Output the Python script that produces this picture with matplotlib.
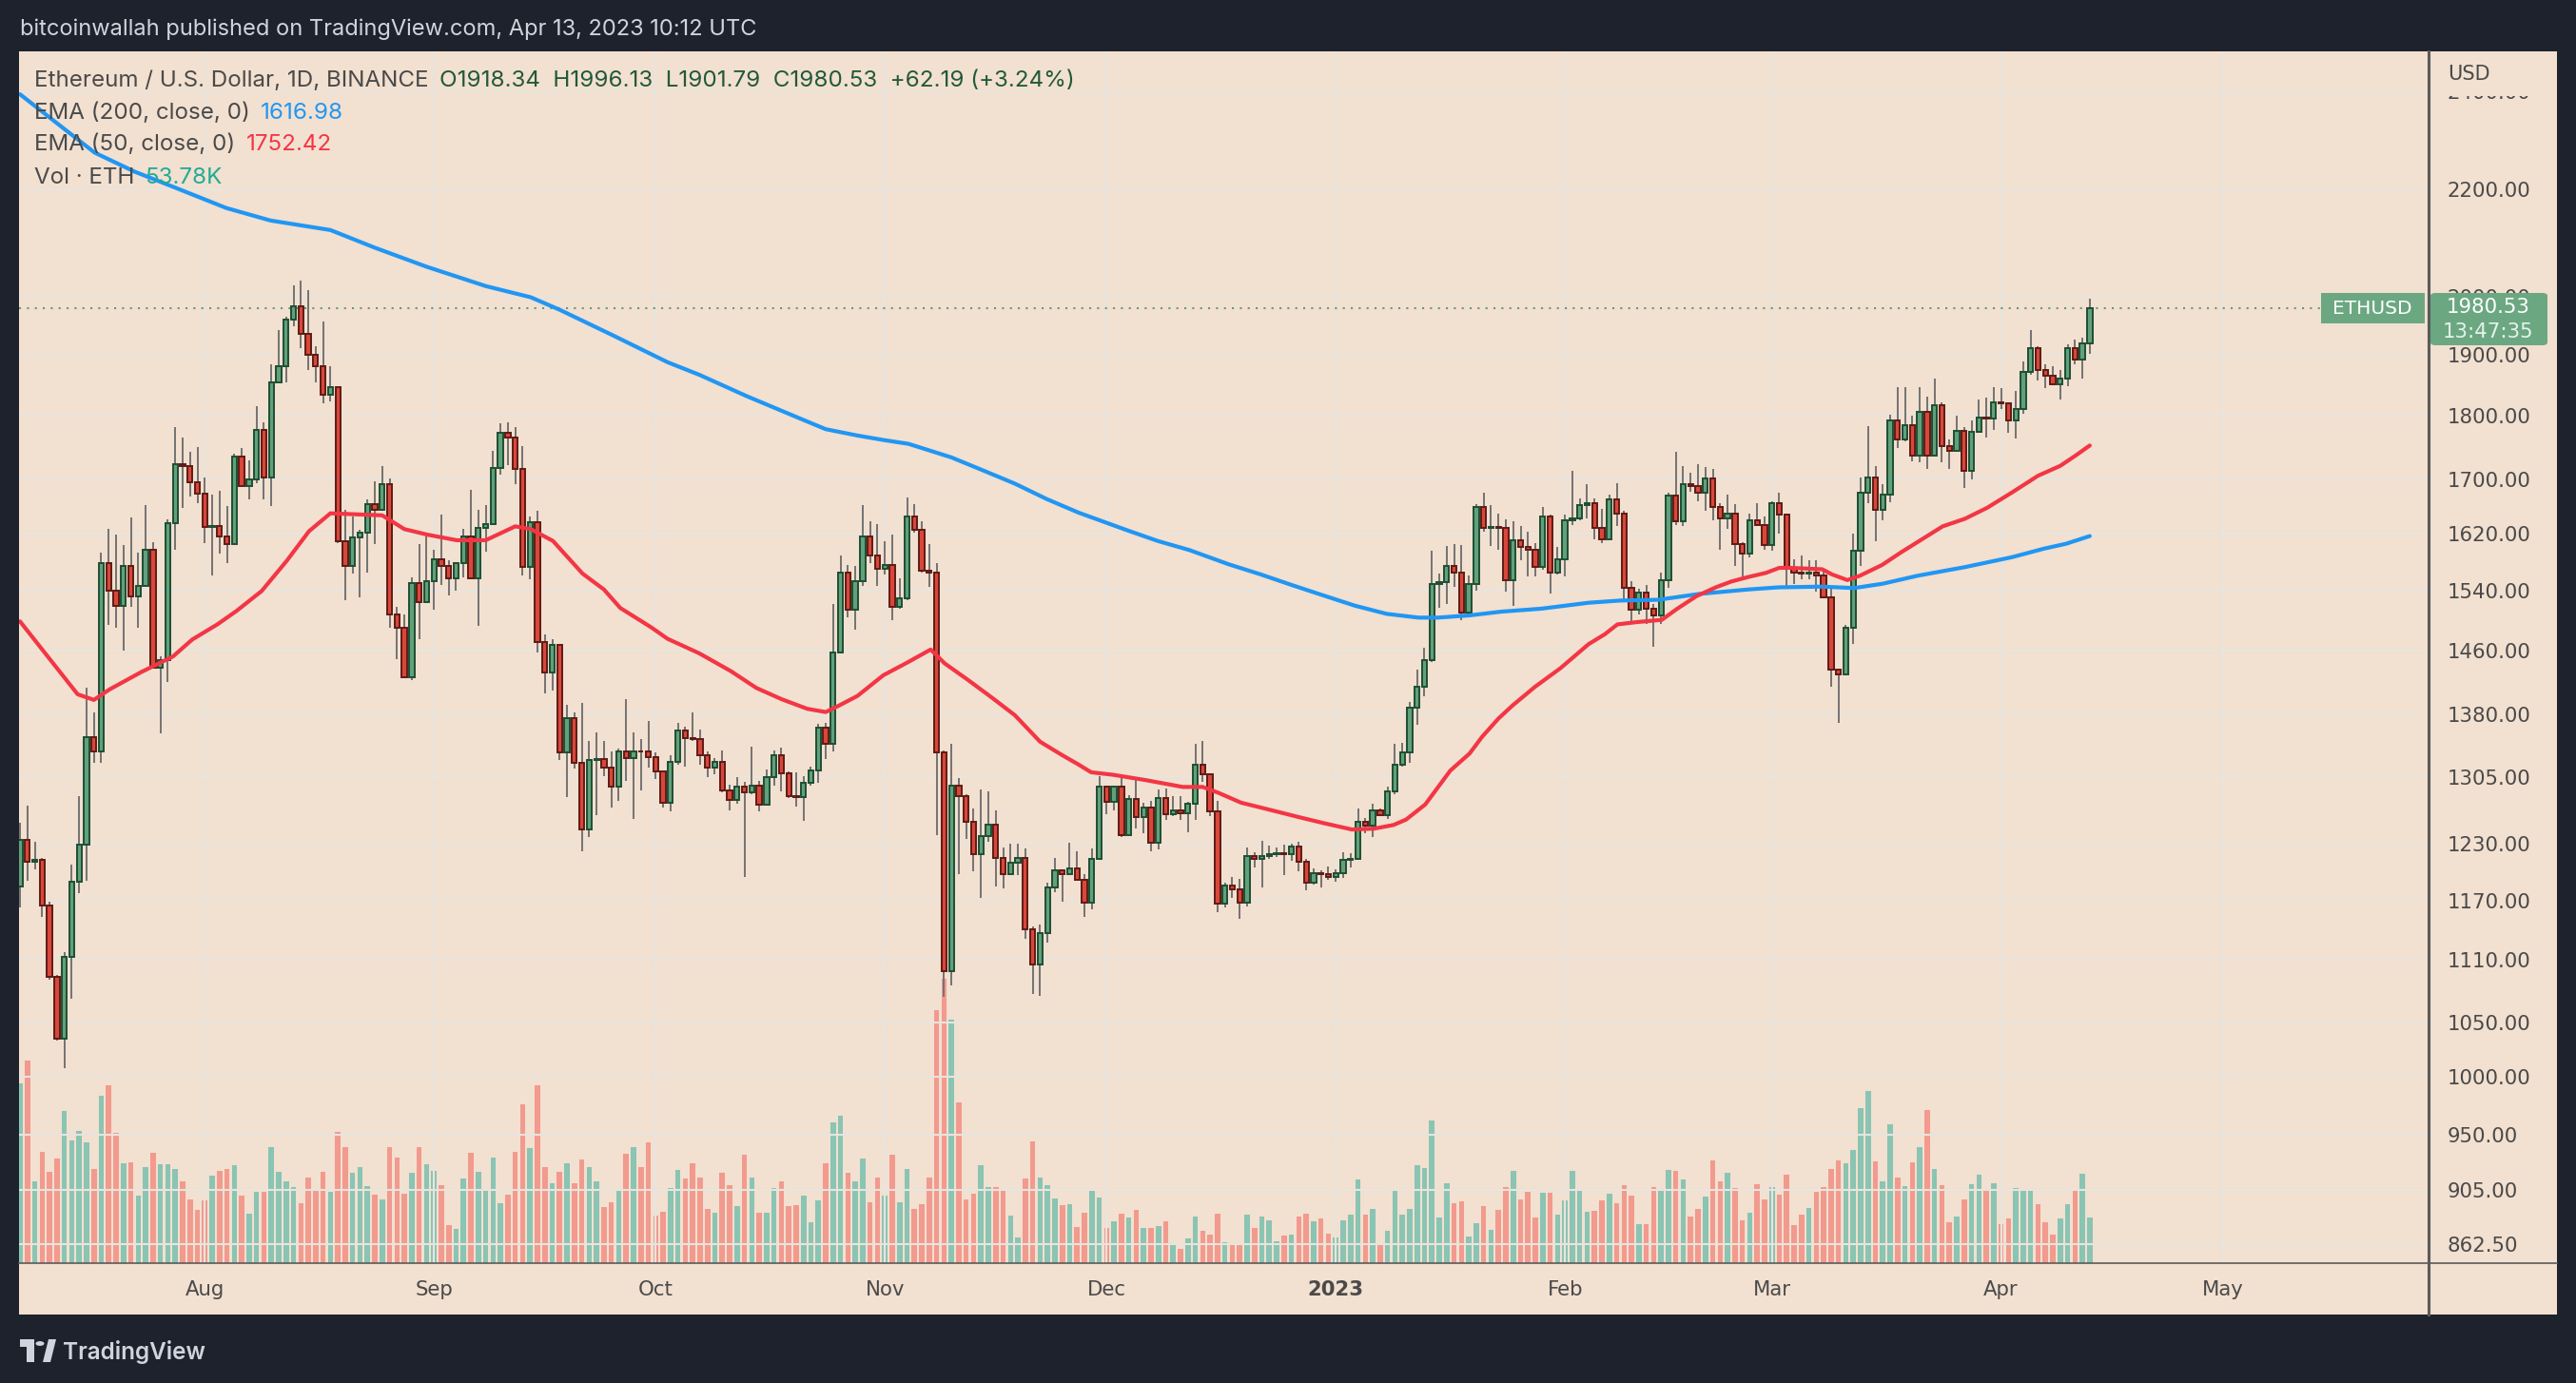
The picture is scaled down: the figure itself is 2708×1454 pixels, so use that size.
import numpy as np
import pandas as pd
import matplotlib
matplotlib.use("Agg")
import matplotlib.pyplot as plt
import matplotlib.dates as mdates
from matplotlib.patches import Rectangle, FancyBboxPatch, Circle, Polygon
from matplotlib.lines import Line2D
from matplotlib.ticker import FixedLocator, FixedFormatter, NullLocator

# ETH/USD daily candles 2022-07-07 .. 2023-04-13
dates = pd.date_range("2022-07-07", "2023-04-13", freq="D")
first_open = 1185

closes = [1235, 1211, 1213, 1165, 1093, 1035, 1113, 1190, 1229, 1353,
          1336, 1579, 1541, 1520, 1574, 1533, 1547, 1597, 1439, 1448,
          1636, 1724, 1721, 1696, 1679, 1630, 1631, 1617, 1606, 1736,
          1690, 1700, 1777, 1703, 1853, 1880, 1959, 1983, 1935, 1900,
          1880, 1833, 1846, 1609, 1575, 1615, 1622, 1663, 1655, 1694,
          1508, 1490, 1426, 1551, 1525, 1554, 1584, 1575, 1557, 1579,
          1616, 1558, 1629, 1634, 1718, 1773, 1765, 1716, 1573, 1637,
          1472, 1433, 1468, 1334, 1375, 1322, 1246, 1325, 1326, 1316,
          1294, 1335, 1328, 1336, 1335, 1329, 1312, 1276, 1323, 1360,
          1351, 1350, 1331, 1316, 1323, 1290, 1279, 1294, 1288, 1296,
          1274, 1305, 1331, 1310, 1284, 1282, 1299, 1313, 1364, 1344,
          1458, 1565, 1514, 1553, 1616, 1589, 1571, 1576, 1518, 1530,
          1645, 1626, 1568, 1566, 1334, 1099, 1295, 1284, 1255, 1219,
          1239, 1251, 1215, 1198, 1210, 1215, 1140, 1105, 1136, 1184,
          1202, 1198, 1204, 1192, 1168, 1214, 1294, 1277, 1294, 1240,
          1280, 1260, 1271, 1231, 1281, 1263, 1267, 1264, 1275, 1320,
          1309, 1266, 1167, 1186, 1182, 1168, 1217, 1214, 1217, 1219,
          1220, 1219, 1227, 1211, 1189, 1199, 1198, 1195, 1199, 1213,
          1214, 1255, 1250, 1267, 1262, 1289, 1320, 1334, 1388, 1415,
          1448, 1550, 1552, 1575, 1565, 1511, 1549, 1660, 1629, 1630,
          1629, 1555, 1611, 1601, 1598, 1573, 1645, 1566, 1584, 1640,
          1643, 1662, 1665, 1629, 1612, 1671, 1650, 1544, 1514, 1538,
          1516, 1507, 1555, 1676, 1638, 1694, 1690, 1680, 1702, 1659,
          1643, 1650, 1606, 1592, 1640, 1633, 1604, 1665, 1648, 1570,
          1565, 1564, 1566, 1561, 1531, 1436, 1430, 1490, 1596, 1680,
          1704, 1655, 1677, 1792, 1762, 1785, 1737, 1806, 1737, 1817,
          1752, 1744, 1775, 1714, 1774, 1796, 1795, 1821, 1820, 1792,
          1810, 1870, 1910, 1874, 1864, 1850, 1859, 1911, 1891, 1918.34,
          1980.53]

highs = [1253, 1273, 1232, 1215, 1169, 1095, 1117, 1208, 1284, 1413,
         1383, 1594, 1628, 1619, 1604, 1644, 1594, 1662, 1608, 1453,
         1641, 1782, 1765, 1743, 1750, 1704, 1678, 1684, 1661, 1739,
         1749, 1730, 1815, 1789, 1884, 1941, 1965, 2020, 2028, 2011,
         1914, 1957, 1880, 1846, 1655, 1645, 1626, 1671, 1698, 1720,
         1702, 1518, 1508, 1559, 1605, 1617, 1598, 1648, 1582, 1580,
         1627, 1685, 1655, 1662, 1744, 1787, 1789, 1781, 1751, 1646,
         1654, 1482, 1476, 1468, 1392, 1382, 1394, 1348, 1358, 1348,
         1336, 1339, 1399, 1358, 1350, 1372, 1334, 1312, 1331, 1370,
         1365, 1382, 1362, 1336, 1328, 1337, 1297, 1305, 1300, 1341,
         1301, 1314, 1337, 1340, 1312, 1311, 1306, 1318, 1369, 1370,
         1522, 1590, 1576, 1574, 1662, 1639, 1634, 1609, 1619, 1557,
         1674, 1664, 1638, 1606, 1578, 1337, 1345, 1304, 1286, 1270,
         1291, 1289, 1267, 1226, 1230, 1230, 1225, 1143, 1145, 1189,
         1215, 1203, 1231, 1222, 1198, 1225, 1307, 1295, 1295, 1304,
         1285, 1304, 1276, 1278, 1291, 1292, 1283, 1283, 1277, 1344,
         1348, 1310, 1278, 1189, 1195, 1193, 1226, 1221, 1234, 1228,
         1226, 1229, 1230, 1233, 1214, 1204, 1202, 1206, 1203, 1221,
         1220, 1270, 1259, 1275, 1270, 1294, 1345, 1346, 1396, 1436,
         1464, 1596, 1564, 1603, 1605, 1604, 1562, 1663, 1680, 1662,
         1649, 1641, 1638, 1631, 1623, 1607, 1659, 1648, 1602, 1648,
         1713, 1672, 1694, 1672, 1656, 1677, 1695, 1654, 1554, 1543,
         1548, 1522, 1566, 1680, 1742, 1721, 1710, 1724, 1719, 1717,
         1665, 1678, 1663, 1608, 1649, 1665, 1645, 1668, 1680, 1649,
         1584, 1589, 1582, 1582, 1571, 1545, 1437, 1494, 1621, 1704,
         1783, 1721, 1694, 1801, 1845, 1845, 1800, 1845, 1830, 1860,
         1821, 1762, 1800, 1781, 1792, 1825, 1829, 1846, 1844, 1813,
         1839, 1889, 1941, 1914, 1883, 1880, 1874, 1917, 1926, 1929,
         1996.13]

lows = [1163, 1191, 1203, 1153, 1090, 1033, 1008, 1072, 1178, 1191,
        1322, 1322, 1494, 1491, 1460, 1519, 1491, 1546, 1438, 1357,
        1421, 1598, 1658, 1675, 1665, 1607, 1561, 1592, 1579, 1605,
        1690, 1670, 1695, 1670, 1661, 1853, 1854, 1949, 1911, 1874,
        1853, 1819, 1822, 1607, 1528, 1564, 1531, 1565, 1605, 1654,
        1490, 1449, 1425, 1423, 1476, 1524, 1515, 1548, 1534, 1541,
        1559, 1558, 1493, 1595, 1633, 1707, 1722, 1693, 1562, 1556,
        1458, 1406, 1410, 1325, 1282, 1315, 1222, 1238, 1262, 1307,
        1271, 1278, 1301, 1258, 1290, 1316, 1303, 1271, 1266, 1320,
        1317, 1348, 1320, 1305, 1309, 1288, 1267, 1275, 1195, 1286,
        1266, 1274, 1296, 1289, 1281, 1272, 1256, 1296, 1299, 1327,
        1335, 1459, 1505, 1488, 1547, 1578, 1547, 1563, 1501, 1516,
        1528, 1622, 1565, 1546, 1240, 1074, 1085, 1198, 1236, 1201,
        1173, 1233, 1185, 1183, 1198, 1197, 1131, 1077, 1075, 1127,
        1179, 1169, 1197, 1192, 1153, 1161, 1214, 1263, 1267, 1238,
        1240, 1247, 1242, 1222, 1224, 1257, 1261, 1257, 1243, 1257,
        1300, 1261, 1158, 1163, 1173, 1151, 1164, 1205, 1184, 1214,
        1216, 1197, 1212, 1201, 1181, 1187, 1184, 1192, 1190, 1194,
        1205, 1213, 1242, 1238, 1262, 1258, 1286, 1317, 1322, 1368,
        1402, 1446, 1517, 1522, 1546, 1501, 1512, 1540, 1623, 1603,
        1598, 1539, 1520, 1583, 1560, 1560, 1569, 1537, 1563, 1560,
        1633, 1640, 1642, 1613, 1607, 1612, 1632, 1527, 1496, 1508,
        1496, 1465, 1496, 1544, 1633, 1632, 1682, 1668, 1654, 1640,
        1598, 1628, 1575, 1558, 1587, 1631, 1598, 1596, 1620, 1543,
        1549, 1556, 1556, 1539, 1530, 1414, 1370, 1429, 1469, 1575,
        1665, 1610, 1640, 1666, 1749, 1759, 1728, 1726, 1716, 1735,
        1727, 1717, 1742, 1687, 1701, 1772, 1765, 1777, 1810, 1773,
        1764, 1803, 1866, 1857, 1844, 1849, 1826, 1847, 1884, 1860,
        1901.79]

# volume in thousands of ETH
volumes_k = [213, 240, 97, 132, 108, 124, 180, 145, 156, 143,
             111, 198, 211, 154, 118, 119, 80, 114, 130, 117,
             117, 111, 96, 75, 63, 74, 103, 109, 111, 116,
             80, 58, 84, 84, 137, 108, 96, 90, 71, 101,
             86, 108, 84, 155, 137, 107, 114, 91, 81, 75,
             137, 125, 82, 107, 137, 117, 109, 92, 45, 40,
             100, 130, 108, 85, 125, 71, 81, 132, 188, 136,
             211, 114, 94, 108, 118, 94, 123, 114, 96, 66,
             72, 86, 129, 137, 114, 143, 56, 61, 89, 110,
             100, 118, 101, 64, 59, 107, 92, 67, 128, 101,
             59, 59, 89, 96, 67, 68, 80, 48, 74, 118,
             167, 174, 107, 97, 124, 72, 101, 80, 128, 72,
             111, 64, 70, 101, 300, 337, 288, 190, 75, 82,
             116, 90, 90, 86, 56, 30, 100, 144, 101, 92,
             76, 68, 70, 42, 59, 86, 77, 41, 49, 58,
             54, 63, 41, 41, 44, 49, 21, 17, 29, 55,
             38, 33, 58, 24, 21, 21, 57, 41, 55, 50,
             26, 32, 33, 55, 58, 49, 52, 35, 30, 50,
             57, 99, 57, 64, 23, 38, 88, 57, 64, 116,
             112, 169, 54, 94, 71, 73, 31, 47, 67, 39,
             63, 90, 109, 75, 84, 54, 83, 83, 57, 74,
             109, 85, 61, 62, 74, 82, 71, 92, 80, 46,
             46, 90, 85, 110, 109, 99, 55, 64, 79, 121,
             97, 107, 89, 50, 59, 93, 75, 90, 81, 105,
             45, 57, 65, 84, 90, 111, 121, 118, 134, 183,
             204, 120, 96, 164, 101, 91, 119, 137, 181, 111,
             92, 48, 55, 75, 93, 105, 86, 94, 46, 53,
             89, 88, 86, 70, 48, 33, 52, 70, 85, 106,
             53.78]

# EMA lines (day offset from first candle, value)
ema200_day = [0, 4.6, 10.1, 15.5, 20.9, 27.9, 33.9, 42, 48, 55, 63, 69.1, 73, 80.3,
              87.6, 91.9, 98.3, 104.7, 109, 113.3, 116.8, 120.2, 126, 130.3, 134.6,
              138.9, 143.2, 149.6, 153.9, 158.2, 163.5, 167.8, 172.1, 176.3, 180.6,
              184.9, 189.2, 191.8, 196.1, 200.4, 205.8, 212.2, 216.5, 221.6, 227.2,
              233.7, 237.9, 243.8, 248.1, 252, 256.7, 263.1, 269.5, 273.8, 276.8, 280]
ema200_val = [2394, 2338, 2273, 2235, 2204, 2164, 2140, 2122, 2089, 2054, 2019, 1999, 1977, 1932,
              1887, 1866, 1831, 1799, 1778, 1768, 1761, 1755, 1734, 1714, 1694,
              1671, 1651, 1626, 1610, 1597, 1577, 1563, 1548, 1534, 1520,
              1509, 1504, 1504, 1507, 1512, 1516, 1524, 1527, 1528, 1536,
              1542, 1545, 1546, 1544, 1550, 1561, 1573, 1587, 1599, 1606, 1616.98]

ema50_day = [0, 3.5, 7.8, 10, 12.1, 16.4, 20.7, 23.3, 26.7, 29.3, 32.7, 36.1, 39.1, 42,
             49, 52, 55.1, 59.1, 63, 67, 69.1, 72.1, 76.1, 79, 81.2, 85.4, 87.6, 91.9,
             96.2, 99.6, 103, 106.5, 109, 110.8, 113.3, 116.8, 120, 123.2, 125.1, 128.1,
             131.6, 134.6, 138, 141, 143.2, 144.9, 147.9, 152.2, 157.3, 160, 162.2, 165.2,
             168.6, 172.9, 176.4, 180.2, 183.2, 185.8, 187.5, 190.1, 193.5, 196.1, 197.8,
             200, 201.9, 204.9, 208.4, 212.2, 214.4, 216.1, 218.7, 222.1, 224.2, 226.8,
             229.4, 231.5, 233.7, 236.2, 238, 239.5, 243.8, 245.1, 247.2, 248.9, 251.9,
             254.5, 258, 260.1, 263.1, 266.1, 269.5, 273, 276, 278.1, 280]
ema50_val = [1499, 1456, 1405, 1398, 1411, 1433, 1453, 1475, 1495, 1513, 1540, 1582, 1624, 1650,
             1647, 1627, 1619, 1611, 1611, 1631, 1627, 1610, 1564, 1542, 1517, 1491, 1476, 1457,
             1434, 1413, 1399, 1387, 1383, 1391, 1403, 1429, 1445, 1462, 1444, 1424,
             1400, 1379, 1347, 1331, 1320, 1311, 1308, 1302, 1294, 1294, 1287, 1276,
             1269, 1260, 1253, 1246, 1247, 1251, 1257, 1274, 1313, 1333, 1353,
             1375, 1391, 1414, 1438, 1469, 1482, 1495, 1498, 1501, 1516, 1533,
             1545, 1553, 1559, 1565, 1572, 1572, 1570, 1563, 1555, 1561, 1576,
             1594, 1617, 1631, 1642, 1658, 1681, 1706, 1721, 1737, 1752.42]

price_ticks = [862.5, 905, 950, 1000, 1050, 1110, 1170, 1230, 1305, 1380, 1460,
               1540, 1620, 1700, 1800, 1900, 2000, 2200, 2400]
price_labels = ["862.50", "905.00", "950.00", "1000.00", "1050.00", "1110.00", "1170.00",
                "1230.00", "1305.00", "1380.00", "1460.00", "1540.00", "1620.00",
                "1700.00", "1800.00", "1900.00", "2000.00", "2200.00", "2400.00"]
month_dates = ["2022-08-01", "2022-09-01", "2022-10-01", "2022-11-01", "2022-12-01",
               "2023-01-01", "2023-02-01", "2023-03-01", "2023-04-01", "2023-05-01"]
month_labels = ["Aug", "Sep", "Oct", "Nov", "Dec", "2023", "Feb", "Mar", "Apr", "May"]

# colours
DARK = "#1e222d"
BG = "#f2e0d0"
GRID = "#e8e4df"
TXT = "#4a4a4a"
UP_FILL, UP_EDGE = "#62a07c", "#1d4f33"
DN_FILL, DN_EDGE = "#d9473a", "#5e1b15"
WICK = "#737373"
VOL_UP, VOL_DN = "#8ac4b3", "#f29a8e"
BLUE, RED = "#2196f3", "#f23645"
FONT = ["Inter", "DejaVu Sans"]

W, H = 2708, 1454
fig = plt.figure(figsize=(W / 100, H / 100), dpi=100, facecolor=DARK)


def fx(px):
    return px / W


def fy(py):
    return 1 - py / H


# peach panel (plot + axes strips)
fig.patches.append(Rectangle((fx(20), fy(1382)), fx(2688) - fx(20), fy(53.5) - fy(1382),
                             transform=fig.transFigure, facecolor=BG, edgecolor="none", zorder=-1))

rect = [fx(20), fy(1327.6), fx(2552) - fx(20), fy(53.5) - fy(1327.6)]
ax_vol = fig.add_axes(rect, facecolor=BG)
ax = fig.add_axes(rect, sharex=ax_vol, facecolor="none")

opens = np.array([first_open] + closes[:-1], dtype=float)
c = np.array(closes, dtype=float)
h = np.maximum(np.array(highs, dtype=float), np.maximum(opens, c))
l = np.minimum(np.array(lows, dtype=float), np.minimum(opens, c))
x = mdates.date2num(dates)
up = c >= opens

# volume
ax_vol.bar(x, volumes_k, width=0.72, color=np.where(up, VOL_UP, VOL_DN), linewidth=0)
ax_vol.set_ylim(0, 1437)
ax_vol.tick_params(left=False, labelleft=False, bottom=False, labelbottom=False)
for s in ax_vol.spines.values():
    s.set_visible(False)

# price
ax.set_yscale("log")
ax.set_ylim(848, 2488)
ax.set_xlim(x[0] - 0.13, x[0] + 325.7)
ax.grid(True, color=GRID, linewidth=1.5, zorder=0)
ax.set_axisbelow(True)

ax.vlines(x, l, h, color=WICK, linewidth=1.4, zorder=2)
body_lo = np.minimum(opens, c)
body_h = np.abs(c - opens)
ax.bar(x[up], body_h[up], bottom=body_lo[up], width=0.68, color=UP_FILL,
       edgecolor=UP_EDGE, linewidth=1.4, zorder=3)
ax.bar(x[~up], body_h[~up], bottom=body_lo[~up], width=0.68, color=DN_FILL,
       edgecolor=DN_EDGE, linewidth=1.4, zorder=3)

ax.plot(x[0] + np.array(ema200_day), ema200_val, color=BLUE, linewidth=3.0,
        solid_capstyle="round", zorder=4)
ax.plot(x[0] + np.array(ema50_day), ema50_val, color=RED, linewidth=3.0,
        solid_capstyle="round", zorder=4)
ax.axhline(closes[-1], color="#5c9f77", linewidth=1.5, linestyle=(0, (1, 3)), zorder=1)

ax.yaxis.tick_right()
ax.yaxis.set_major_locator(FixedLocator(price_ticks))
ax.yaxis.set_major_formatter(FixedFormatter(price_labels))
ax.yaxis.set_minor_locator(NullLocator())
ax.tick_params(axis="y", length=0, pad=15, labelsize=15.3, labelcolor=TXT)
ax.set_xticks(mdates.date2num(pd.to_datetime(month_dates)))
ax.set_xticklabels(month_labels)
ax.tick_params(axis="x", length=0, pad=13, labelsize=15.3, labelcolor=TXT)
for t in ax.get_xticklabels():
    if t.get_text() == "2023":
        t.set_fontweight("bold")
for s in ax.spines.values():
    s.set_visible(False)

# separators
fig.add_artist(Line2D([fx(2552.5), fx(2552.5)], [fy(53.5), fy(1382)], color="#5a5a5a", linewidth=2.2))
fig.add_artist(Line2D([fx(20), fx(2688)], [fy(1328), fy(1328)], color="#5a5a5a", linewidth=1.2))

# USD header covering most of the clipped top label
fig.patches.append(Rectangle((fx(2556), fy(101)), fx(2688) - fx(2556), fy(54) - fy(101),
                             transform=fig.transFigure, facecolor=BG, edgecolor="none", zorder=5))
fig.text(fx(2573), fy(78), "USD", color=TXT, fontsize=15, va="center", ha="left", zorder=6)

# last price labels
fig.patches.append(FancyBboxPatch((fx(2440), fy(340)), fx(2549) - fx(2440), fy(308) - fy(340),
                                  boxstyle="square,pad=0", transform=fig.transFigure,
                                  facecolor="#6ba882", edgecolor="none", zorder=5))
fig.text(fx(2494), fy(324), "ETHUSD", color="white", fontsize=14.5, va="center", ha="center", zorder=6)
fig.patches.append(FancyBboxPatch((fx(2555), fy(363)), fx(2678) - fx(2555), fy(308) - fy(363),
                                  boxstyle="round,pad=0,rounding_size=0.002", transform=fig.transFigure,
                                  facecolor="#6ba882", edgecolor="none", zorder=5))
fig.text(fx(2616), fy(323), "1980.53", color="white", fontsize=15.3, va="center", ha="center", zorder=6)
fig.text(fx(2616), fy(349), "13:47:35", color="#e8f2ec", fontsize=15.3, va="center", ha="center", zorder=6)

# header
fig.text(fx(21), fy(31), "bitcoinwallah published on TradingView.com, Apr 13, 2023 10:12 UTC",
         color="#d1d4dc", fontsize=17, va="center", ha="left", family=FONT)

LEG_FS = 17.4


def legend_line(y, parts):
    t = fig.text(fx(36), fy(y), parts[0][0], color=parts[0][1], fontsize=LEG_FS,
                 va="center", ha="left", family=FONT, zorder=7)
    for s, col in parts[1:]:
        t = ax.annotate(s, xy=(1, 0.5), xycoords=t, xytext=(8, 0), textcoords="offset points",
                        va="center", ha="left", color=col, fontsize=LEG_FS, family=FONT,
                        annotation_clip=False, zorder=7)


legend_line(85, [("Ethereum / U.S. Dollar, 1D, BINANCE", TXT),
                 ("O1918.34  H1996.13  L1901.79  C1980.53  +62.19 (+3.24%)", "#22593a")])
legend_line(119, [("EMA (200, close, 0)", TXT), ("1616.98", BLUE)])
legend_line(152, [("EMA (50, close, 0)", TXT), ("1752.42", RED)])
legend_line(187, [("Vol · ETH", TXT), ("53.78K", "#22ab94")])

# TradingView logo at the bottom
LOGO = "#d1d4dc"
fig.patches.append(Rectangle((fx(21), fy(1416)), fx(36) - fx(21), fy(1408) - fy(1416),
                             transform=fig.transFigure, facecolor=LOGO, edgecolor="none"))
fig.patches.append(Rectangle((fx(28), fy(1432)), fx(36) - fx(28), fy(1408) - fy(1432),
                             transform=fig.transFigure, facecolor=LOGO, edgecolor="none"))
fig.patches.append(Circle((fx(42), fy(1412.5)), fx(4.5), transform=fig.transFigure,
                          facecolor=LOGO, edgecolor="none"))
fig.patches.append(Polygon([(fx(45), fy(1432)), (fx(51), fy(1408)), (fx(59), fy(1408)), (fx(53), fy(1432))],
                           closed=True, transform=fig.transFigure, facecolor=LOGO, edgecolor="none"))
fig.text(fx(66), fy(1421), "TradingView", color=LOGO, fontsize=17.5, fontweight="semibold",
         va="center", ha="left", family=FONT)

fig.savefig("out.png", dpi=100, facecolor=DARK)
